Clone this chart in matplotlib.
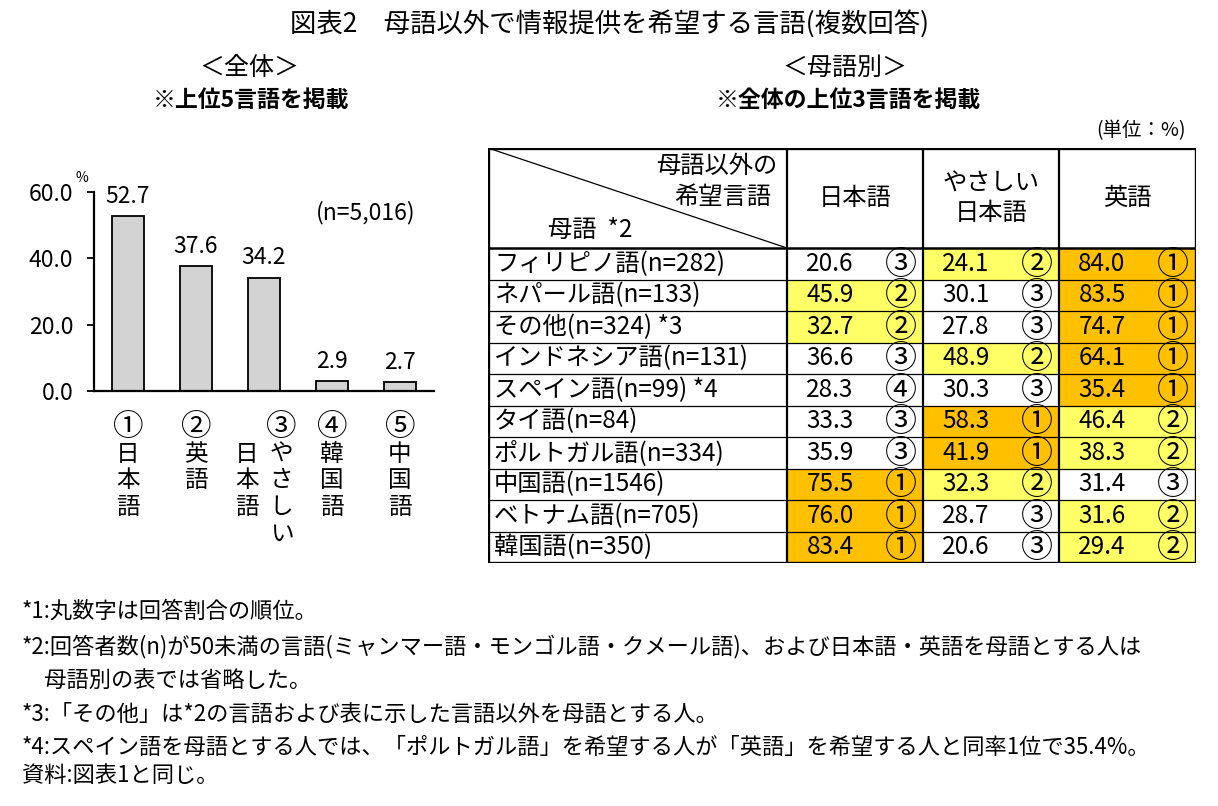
import matplotlib.pyplot as plt
from matplotlib.patches import Rectangle

plt.rcParams['font.family'] = ['Noto Sans CJK JP', 'DejaVu Sans']

# 全体（上位5言語）
bar_values = [52.7, 37.6, 34.2, 2.9, 2.7]
bar_label_cols = [['①日本語'], ['②英語'], ['③やさしい', '　日本語'], ['④韓国語'], ['⑤中国語']]
y_ticks = [0, 20, 40, 60]

# 母語別（全体の上位3言語）
row_labels = ['フィリピノ語(n=282)', 'ネパール語(n=133)', 'その他(n=324) *3',
              'インドネシア語(n=131)', 'スペイン語(n=99) *4', 'タイ語(n=84)',
              'ポルトガル語(n=334)', '中国語(n=1546)', 'ベトナム語(n=705)', '韓国語(n=350)']
col_headers = ['日本語', 'やさしい\n日本語', '英語']
japanese = [20.6, 45.9, 32.7, 36.6, 28.3, 33.3, 35.9, 75.5, 76.0, 83.4]
japanese_rank = [3, 2, 2, 3, 4, 3, 3, 1, 1, 1]
easy_japanese = [24.1, 30.1, 27.8, 48.9, 30.3, 58.3, 41.9, 32.3, 28.7, 20.6]
easy_rank = [2, 3, 3, 2, 3, 1, 1, 2, 3, 3]
english = [84.0, 83.5, 74.7, 64.1, 35.4, 46.4, 38.3, 31.4, 31.6, 29.4]
english_rank = [1, 1, 1, 1, 1, 2, 2, 3, 2, 2]

notes = [
    '*1:丸数字は回答割合の順位。',
    '*2:回答者数(n)が50未満の言語(ミャンマー語・モンゴル語・クメール語)、および日本語・英語を母語とする人は',
    '　母語別の表では省略した。',
    '*3:「その他」は*2の言語および表に示した言語以外を母語とする人。',
    '*4:スペイン語を母語とする人では、「ポルトガル語」を希望する人が「英語」を希望する人と同率1位で35.4%。',
    '資料:図表1と同じ。',
]

circled = {1: '①', 2: '②', 3: '③', 4: '④', 5: '⑤'}
rank_color = {1: '#FFC000', 2: '#FFFF66'}

W, H = 1218, 806
fig = plt.figure(figsize=(W / 100, H / 100), dpi=100)

def fx(px):
    return px / W

def fy(py):
    return 1 - py / H

# タイトル・見出し
fig.text(fx(609), fy(24), '図表2　母語以外で情報提供を希望する言語(複数回答)', ha='center', va='center', fontsize=19)
fig.text(fx(249), fy(68), '＜全体＞', ha='center', va='center', fontsize=18)
fig.text(fx(251), fy(100), '※上位5言語を掲載', ha='center', va='center', fontsize=16.5, fontweight='bold')
fig.text(fx(845), fy(68), '＜母語別＞', ha='center', va='center', fontsize=18)
fig.text(fx(848), fy(100), '※全体の上位3言語を掲載', ha='center', va='center', fontsize=16.5, fontweight='bold')
fig.text(fx(1186), fy(131), '(単位：%)', ha='right', va='center', fontsize=14)

# 棒グラフ
ax1 = fig.add_axes([fx(94), fy(391), fx(434 - 94), (391 - 192) / H])
x = range(len(bar_values))
ax1.bar(x, bar_values, width=0.46, color='#D3D3D3', edgecolor='black', linewidth=1.3)
ax1.set_xlim(-0.5, 4.5)
ax1.set_ylim(0, 60)
ax1.set_yticks(y_ticks)
ax1.set_yticklabels([f'{v:.1f}' for v in y_ticks], fontsize=16.5)
ax1.set_xticks([])
ax1.tick_params(axis='y', direction='out', length=5, width=1.3, pad=10)
for s in ['top', 'right']:
    ax1.spines[s].set_visible(False)
for s in ['left', 'bottom']:
    ax1.spines[s].set_linewidth(1.6)
ax1.patch.set_alpha(0)

for i, v in enumerate(bar_values):
    ax1.annotate(f'{v}', (i, v), xytext=(0, 6), textcoords='offset points',
                 ha='center', va='bottom', fontsize=16.5)

ax1.text(3.5, 53.7, '(n=5,016)', ha='center', va='center', fontsize=16.5)
fig.text(fx(82), fy(178), '%', ha='center', va='center', fontsize=10)

# 縦書きラベル
pitch = 19.1
for i, cols in enumerate(bar_label_cols):
    n = len(cols)
    for c, col in enumerate(cols):
        dx = 0 if n == 1 else (12.5 if c == 0 else -12.5)
        for k, ch in enumerate(col):
            if ch == '　':
                continue
            fs = 22 if ch in circled.values() else 17
            ax1.annotate(ch, (i, 0), xycoords=('data', 'axes fraction'),
                         xytext=(dx, -26.5 - k * pitch), textcoords='offset points',
                         ha='center', va='center', fontsize=fs, annotation_clip=False)

# 表
tl, tt, tr, tb = 488, 148, 1196, 563
ax2 = fig.add_axes([fx(tl), fy(tb), fx(tr - tl), (tb - tt) / H])
ax2.set_xlim(0, tr - tl)
ax2.set_ylim(tb - tt, 0)
ax2.axis('off')

col_edges = [0, 299, 435, 571, tr - tl]
head_h = 100
row_h = (tb - tt - head_h) / len(row_labels)

series = [(japanese, japanese_rank), (easy_japanese, easy_rank), (english, english_rank)]
for c, (vals, ranks) in enumerate(series):
    x0, x1 = col_edges[c + 1], col_edges[c + 2]
    for r, (v, rk) in enumerate(zip(vals, ranks)):
        y0 = head_h + r * row_h
        ax2.add_patch(Rectangle((x0, y0), x1 - x0, row_h,
                                facecolor=rank_color.get(rk, 'white'), edgecolor='none'))
        ax2.text(x0 + 43, y0 + row_h / 2, f'{v:.1f}', ha='center', va='center', fontsize=17.5)
        ax2.text(x0 + 114, y0 + row_h / 2 + 1, circled[rk], ha='center', va='center', fontsize=23)

for r, lab in enumerate(row_labels):
    ax2.text(6, head_h + (r + 0.5) * row_h, lab, ha='left', va='center', fontsize=17.5)

# 罫線
for r in range(1, len(row_labels)):
    y = head_h + r * row_h
    ax2.plot([0, tr - tl], [y, y], color='black', lw=0.9)
ax2.plot([0, tr - tl], [head_h, head_h], color='black', lw=1.8)
for xe in col_edges[1:-1]:
    ax2.plot([xe, xe], [0, tb - tt], color='black', lw=1.6)
ax2.add_patch(Rectangle((0, 0), tr - tl, tb - tt, facecolor='none', edgecolor='black', lw=2.4))
ax2.plot([0, col_edges[1]], [0, head_h], color='black', lw=0.9)

# 見出しセル
ax2.text(col_edges[1] - 10, 18, '母語以外の', ha='right', va='center', fontsize=17.5)
ax2.text(col_edges[1] - 16, 49, '希望言語', ha='right', va='center', fontsize=17.5)
ax2.text(60, 82, '母語  *2', ha='left', va='center', fontsize=17.5)
for c, hdr in enumerate(col_headers):
    xc = (col_edges[c + 1] + col_edges[c + 2]) / 2
    ax2.text(xc, head_h / 2, hdr, ha='center', va='center', fontsize=17.5, linespacing=1.15)

# 注記
note_y = [611, 646, 680, 714, 747, 776]
for t, y in zip(notes, note_y):
    fig.text(fx(22), fy(y), t, ha='left', va='center', fontsize=16)

fig.savefig('out.png', dpi=100)
